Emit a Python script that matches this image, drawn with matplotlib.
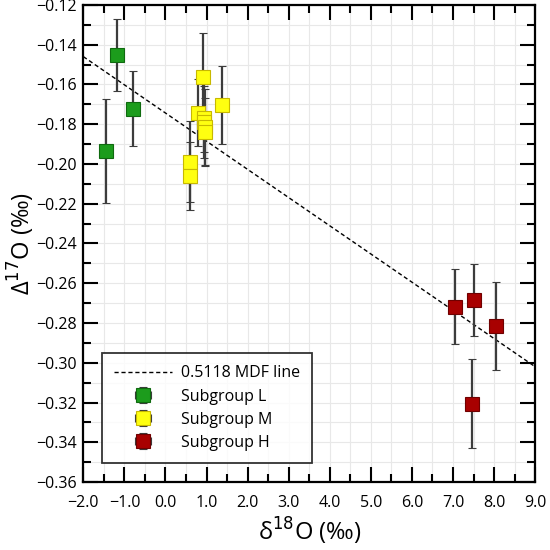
import numpy as np
import matplotlib
matplotlib.use('Agg')
import matplotlib.pyplot as plt
from matplotlib.ticker import MultipleLocator, FuncFormatter

plt.rcParams['font.family'] = ['Open Sans', 'DejaVu Sans']

# Subgroup L
l_x = [-1.45, -1.17, -0.80]
l_y = [-0.1935, -0.1452, -0.1722]
l_err = [0.026, 0.018, 0.019]

# Subgroup M
m_x = [0.60, 0.60, 0.78, 0.91, 0.93, 0.95, 0.97, 0.97, 1.37]
m_y = [-0.1988, -0.2062, -0.1742, -0.1562, -0.1768, -0.1790, -0.1815, -0.1840, -0.1703]
m_err = [0.0205, 0.0172, 0.017, 0.022, 0.017, 0.018, 0.019, 0.017, 0.0198]

# Subgroup H
h_x = [7.05, 7.52, 8.04, 7.46]
h_y = [-0.2718, -0.2685, -0.2814, -0.3205]
h_err = [0.019, 0.018, 0.022, 0.0225]

x_err = 0.08

# 0.5118 MDF line end points
mdf_x = [-2.0, 9.0]
mdf_y = [-0.146, -0.302]


def fmt(dec):
    return FuncFormatter(lambda v, p: f'{v:.{dec}f}'.replace('-', '\u2212'))


fig = plt.figure(figsize=(5.5, 5.5), dpi=100)
ax = fig.add_axes([0.1515, 0.1236, 0.8215, 0.8674])

ax.plot(mdf_x, mdf_y, color='black', lw=1.0, dashes=(3, 2), label='0.5118 MDF line', zorder=2)

groups = [
    (l_x, l_y, l_err, '#1c9c1c', '#0f6a0f', 'Subgroup L'),
    (m_x, m_y, m_err, '#ffff10', '#c8b800', 'Subgroup M'),
    (h_x, h_y, h_err, '#a80000', '#700000', 'Subgroup H'),
]
for gx, gy, ge, fc, ec, lab in groups:
    ax.errorbar(gx, gy, yerr=ge, xerr=x_err, fmt='s', ms=10, mfc=fc, mec=ec, mew=0.8,
                ecolor='#3c3c3c', elinewidth=1.6, capsize=3, capthick=1.0,
                label=lab, zorder=3)

ax.set_xlim(-2.0, 9.0)
ax.set_ylim(-0.36, -0.12)
ax.xaxis.set_major_locator(MultipleLocator(1.0))
ax.xaxis.set_minor_locator(MultipleLocator(0.5))
ax.yaxis.set_major_locator(MultipleLocator(0.02))
ax.yaxis.set_minor_locator(MultipleLocator(0.01))
ax.xaxis.set_major_formatter(fmt(1))
ax.yaxis.set_major_formatter(fmt(2))

ax.grid(True, which='both', color='#e8e8e8', lw=0.8, zorder=0)
ax.set_axisbelow(True)
ax.tick_params(which='both', direction='in', top=True, right=True, width=1.5, labelsize=11.5)
ax.tick_params(which='major', length=11)
ax.tick_params(which='minor', length=5.5)
ax.tick_params(axis='x', pad=9)
ax.tick_params(axis='y', pad=5)
for s in ax.spines.values():
    s.set_linewidth(1.6)

ax.set_xlabel('δ$^{18}$O (‰)', fontsize=17, labelpad=4)
ax.set_ylabel('Δ$^{17}$O (‰)', fontsize=17, labelpad=-1)

leg = ax.legend(loc='lower left', bbox_to_anchor=(0.042, 0.04), fontsize=11.5, frameon=True,
                fancybox=False, edgecolor='black', handlelength=3.6, borderpad=0.75,
                labelspacing=0.45, handletextpad=0.6, borderaxespad=0.0)
leg.get_frame().set_linewidth(1.3)

fig.savefig('out.png', dpi=100)
